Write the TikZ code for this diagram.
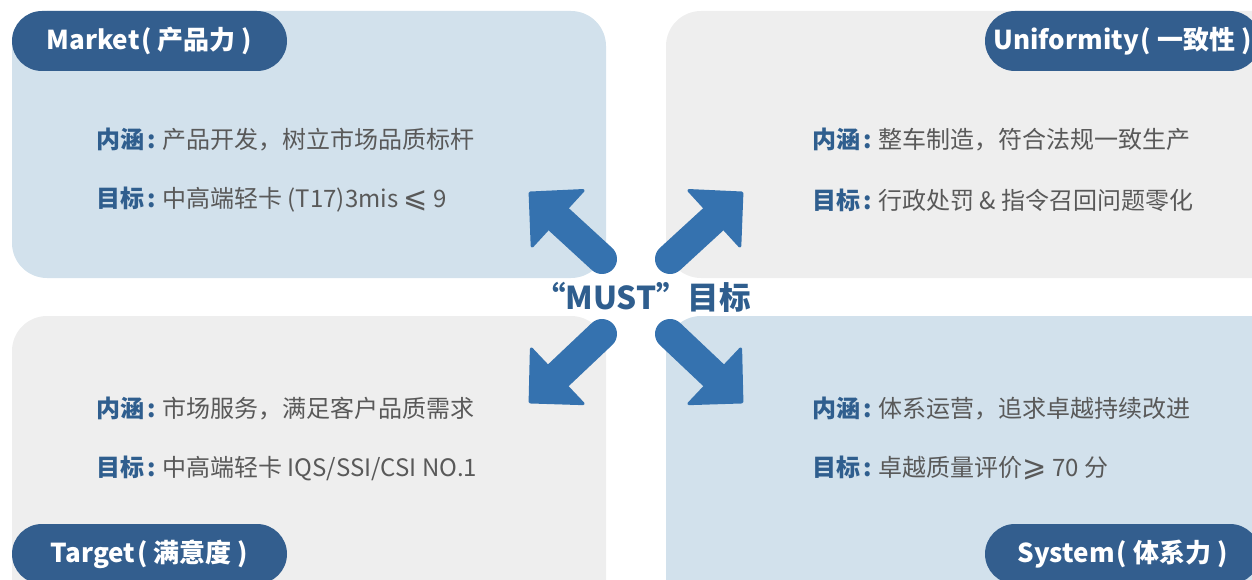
\documentclass[tikz,border=0pt]{standalone}
\usepackage{fontspec}
\setmainfont{Noto Sans CJK SC}
\newfontfamily\symfont{DejaVu Sans}
\usepackage{tikz}
\usetikzlibrary{arrows.meta}

\definecolor{paleblue}{HTML}{D2E1EC}
\definecolor{palegray}{HTML}{EEEEEE}
\definecolor{tabblue}{HTML}{335E8E}
\definecolor{arrowblue}{HTML}{3572AF}
\definecolor{labelblue}{HTML}{2F5E8E}
\definecolor{bodygray}{HTML}{595959}

\newcommand{\keylabel}[1]{{\bfseries\color{labelblue}#1\kern4pt:\kern6pt}}
\newcommand{\relsign}[1]{{\symfont\fontsize{29}{29}\selectfont #1}}

\begin{document}
\begin{tikzpicture}[
  x=1pt, y=-1pt,
  every node/.style={inner sep=0pt, outer sep=0pt},
  % --- box styles ---
  quadbox/.style={rounded corners=35pt},
  tabbox/.style={
    fill=tabblue, rounded corners=30pt,
    minimum width=275pt, minimum height=60pt,
    text=white, font=\fontsize{26}{30}\selectfont\bfseries,
  },
  bodytext/.style={anchor=west, text=bodygray,
    font=\fontsize{24}{28}\selectfont},
  bigarrow/.style={draw=arrowblue, line width=30pt, line cap=round,
    -{Triangle[width=82pt, length=41pt, line width=3pt, round]}},
]

\useasboundingbox (0,0) rectangle (1252,580);
\clip (0,0) rectangle (1252,580);

% ---------- Quadrants ----------
\node[quadbox, fill=paleblue, minimum width=594pt, minimum height=267pt]
  (mkt) at (309,144.5) {};
\node[quadbox, fill=palegray, minimum width=634pt, minimum height=267pt]
  (uni) at (983,144.5) {};
\node[quadbox, fill=palegray, minimum width=594pt, minimum height=304pt]
  (tgt) at (309,468) {};
\node[quadbox, fill=paleblue, minimum width=634pt, minimum height=304pt]
  (sys) at (983,468) {};

% ---------- Tabs ----------
\node[tabbox] (mkt-tab) at (149.5,41) {Market\kern2pt(\kern6pt产品力\kern6pt)};
\node[tabbox] (uni-tab) at (1122.5,41) {Uniformity\kern2pt(\kern6pt一致性\kern6pt)};
\node[tabbox] (tgt-tab) at (149.5,554) {Target\kern2pt(\kern6pt满意度\kern6pt)};
\node[tabbox] (sys-tab) at (1122.5,554) {System\kern2pt(\kern6pt体系力\kern6pt)};

% ---------- Centre ----------
\node[text=labelblue, font=\fontsize{31.5}{34}\selectfont\bfseries]
  (must) at (642.5,297) {“MUST”目标};

\coordinate (tl-tail) at (602,259);  \coordinate (tl-tip) at (529,192);
\coordinate (tr-tail) at (670,259);  \coordinate (tr-tip) at (743,192);
\coordinate (bl-tail) at (602,334);  \coordinate (bl-tip) at (529,403);
\coordinate (br-tail) at (670,334);  \coordinate (br-tip) at (743,403);

\draw[bigarrow] (tl-tail) -- (tl-tip);
\draw[bigarrow] (tr-tail) -- (tr-tip);
\draw[bigarrow] (bl-tail) -- (bl-tip);
\draw[bigarrow] (br-tail) -- (br-tip);

% ---------- Market ----------
\node[bodytext] (mkt-in) at (96,140)
  {\keylabel{内涵}产品开发，树立市场品质标杆};
\node[bodytext] (mkt-goal) at (96,200)
  {\keylabel{目标}中高端轻卡 (T17)3mis \relsign{⩽} 9};

% ---------- Uniformity ----------
\node[bodytext] (uni-in) at (812,140)
  {\keylabel{内涵}整车制造，符合法规一致生产};
\node[bodytext] (uni-goal) at (812,200)
  {\keylabel{目标}行政处罚 \& 指令召回问题零化};

% ---------- Target ----------
\node[bodytext] (tgt-in) at (96,409)
  {\keylabel{内涵}市场服务，满足客户品质需求};
\node[bodytext] (tgt-goal) at (96,468)
  {\keylabel{目标}中高端轻卡 IQS/SSI/CSI NO.1};

% ---------- System ----------
\node[bodytext] (sys-in) at (812,409)
  {\keylabel{内涵}体系运营，追求卓越持续改进};
\node[bodytext] (sys-goal) at (812,468)
  {\keylabel{目标}卓越质量评价\relsign{⩾} 70 分};

\end{tikzpicture}
\end{document}
